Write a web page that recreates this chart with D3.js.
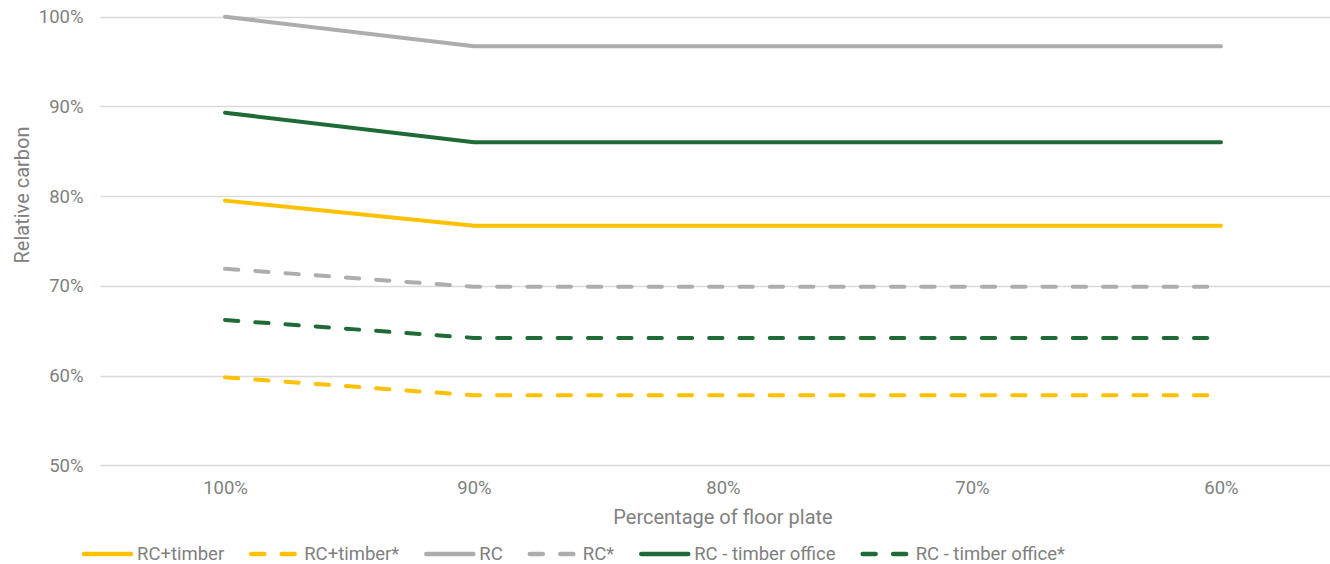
<!DOCTYPE html>
<html>
<head>
<meta charset="utf-8">
<script src="https://cdn.jsdelivr.net/npm/d3@7"></script>
<style>
  html, body { margin: 0; padding: 0; background: #fff; }
  svg { display: block; }
  text { font-family: Roboto, "Noto Sans", sans-serif; fill: #808080; }
</style>
</head>
<body>
<svg id="chart" width="1330" height="564"></svg>
<script>
// Floor-plate share on the x axis
const categories = ["100%", "90%", "80%", "70%", "60%"];

// Relative carbon (%) for each scheme
const rcTimber        = [79.5, 76.7, 76.7, 76.7, 76.7];
const rcTimberStar    = [59.8, 57.8, 57.8, 57.8, 57.8];
const rc              = [100.0, 96.7, 96.7, 96.7, 96.7];
const rcStar          = [71.9, 69.9, 69.9, 69.9, 69.9];
const rcTimberOffice  = [89.3, 86.0, 86.0, 86.0, 86.0];
const rcTimberOfficeStar = [66.2, 64.2, 64.2, 64.2, 64.2];

const seriesNames = ["RC+timber", "RC+timber*", "RC", "RC*", "RC - timber office", "RC - timber office*"];
const seriesValues = [rcTimber, rcTimberStar, rc, rcStar, rcTimberOffice, rcTimberOfficeStar];
const seriesColors = ["#FFC000", "#FFC000", "#ADADAD", "#ADADAD", "#1E6B37", "#1E6B37"];
const seriesDashed = [false, true, false, true, false, true];

const yTicks = [50, 60, 70, 80, 90, 100];

const svg = d3.select("#chart");
const plot = { left: 100.5, right: 1345.5, top: 16.7, bottom: 465.3 };

const x = d3.scalePoint().domain(categories).range([plot.left, plot.right]).padding(0.5);
const y = d3.scaleLinear().domain([50, 100]).range([plot.bottom, plot.top]);

// Horizontal gridlines
svg.append("g").selectAll("line").data(yTicks).join("line")
  .attr("x1", plot.left).attr("x2", plot.right)
  .attr("y1", d => Math.round(y(d)) + 0.5).attr("y2", d => Math.round(y(d)) + 0.5)
  .attr("stroke", "#D9D9D9").attr("stroke-width", 1.3);

// Y axis labels
const yAxis = svg.append("g")
  .attr("transform", `translate(${plot.left},0)`)
  .call(d3.axisLeft(y).tickValues(yTicks).tickFormat(d => d + "%").tickSize(0).tickPadding(17));
yAxis.select(".domain").remove();
yAxis.selectAll("text").style("font-size", "18.5px").attr("fill", "#808080")
  .style("font-family", "Roboto, sans-serif");

// X axis labels
const xAxis = svg.append("g")
  .attr("transform", `translate(0,${plot.bottom})`)
  .call(d3.axisBottom(x).tickSize(0).tickPadding(16));
xAxis.select(".domain").remove();
xAxis.selectAll("text").style("font-size", "18.5px").attr("fill", "#808080")
  .style("font-family", "Roboto, sans-serif");

// Axis titles
svg.append("text")
  .attr("x", (plot.left + plot.right) / 2)
  .attr("y", 524)
  .attr("text-anchor", "middle")
  .style("font-size", "20px")
  .text("Percentage of floor plate");

svg.append("text")
  .attr("transform", "translate(29,195) rotate(-90)")
  .attr("text-anchor", "middle")
  .style("font-size", "20px")
  .text("Relative carbon");

// Series lines
const line = d3.line().x((d, i) => x(categories[i])).y(d => y(d));
const dashPattern = "13.3,17";

const order = [2, 4, 0, 3, 5, 1];
order.forEach(k => {
  svg.append("path")
    .datum(seriesValues[k])
    .attr("d", line)
    .attr("fill", "none")
    .attr("stroke", seriesColors[k])
    .attr("stroke-width", 4)
    .attr("stroke-linecap", "round")
    .attr("stroke-linejoin", "round")
    .attr("stroke-dasharray", seriesDashed[k] ? dashPattern : null);
});

// Legend
const legend = svg.append("g");
let cx = 84;
const ly = 554;
seriesNames.forEach((name, k) => {
  legend.append("line")
    .attr("x1", cx).attr("x2", cx + 47)
    .attr("y1", ly).attr("y2", ly)
    .attr("stroke", seriesColors[k])
    .attr("stroke-width", 4.5)
    .attr("stroke-linecap", "round")
    .attr("stroke-dasharray", seriesDashed[k] ? "13,17.5" : null);
  const t = legend.append("text")
    .attr("x", cx + 53)
    .attr("y", ly)
    .attr("dy", "0.35em")
    .style("font-size", "18.5px")
    .text(name);
  cx = cx + 53 + t.node().getComputedTextLength() + 27;
});
</script>
</body>
</html>
